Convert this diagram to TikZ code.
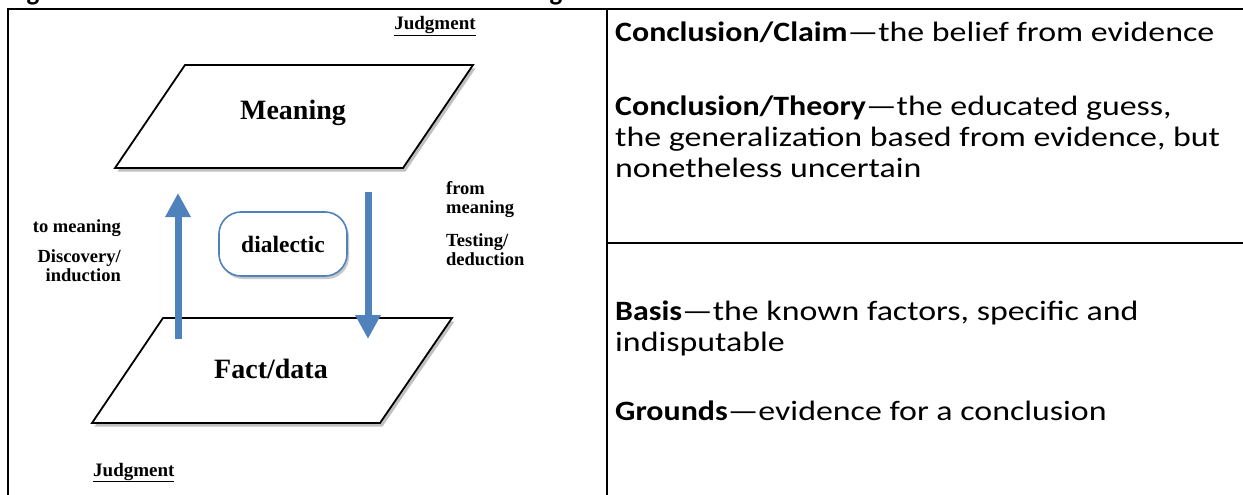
\documentclass[tikz,border=0pt]{standalone}
\usepackage{fontspec}
\setmainfont{Carlito}
\newfontfamily\dserif{Liberation Serif}
\usetikzlibrary{arrows.meta,shadows}
\definecolor{abl}{HTML}{4F81BD}
\newcommand{\wide}[1]{\scalebox{1.21}[1]{#1}}
\newcommand{\wideb}[1]{\scalebox{1.14}[1]{\textbf{#1}}}
\begin{document}
\begin{tikzpicture}[x=1pt,y=-1pt,
  rule/.style={line width=2pt,black},
  plane/.style={draw=black,line width=1.8pt,fill=white,line join=miter,
    drop shadow={shadow xshift=2.5pt,shadow yshift=-3.5pt,opacity=0.35,fill=black!70}},
  lbl/.style={font=\dserif\bfseries\fontsize{18.5}{20}\selectfont,inner sep=0pt},
  bigl/.style={font=\dserif\bfseries\fontsize{28}{30}\selectfont,inner sep=0pt},
  jlbl/.style={font=\dserif\bfseries\fontsize{19}{22}\selectfont,inner sep=0pt},
  rtext/.style={font=\fontsize{28}{31}\selectfont,anchor=base west,inner sep=0pt},
  flow/.style={abl,line width=7pt,-{Triangle[width=24pt,length=24pt]}},
  dbox/.style={draw=abl,line width=1.6pt,rounded corners=22pt,fill=white,
    minimum width=128pt,minimum height=64pt,
    font=\dserif\bfseries\fontsize{23.5}{24}\selectfont,
    drop shadow={shadow xshift=2pt,shadow yshift=-3pt,opacity=0.3,fill=black!70}}
]
\useasboundingbox (0,0) rectangle (1243,495);
\fill[white] (0,0) rectangle (1243,495);
% cut-off heading fragments
\begin{scope}
  \clip (0,0) rectangle (1243,8);
  \node[font=\bfseries\fontsize{27}{30}\selectfont,anchor=base,inner sep=0pt] (hg1) at (33,1) {g};
  \node[font=\bfseries\fontsize{27}{30}\selectfont,anchor=base,inner sep=0pt] (hg2) at (556,1) {g};
\end{scope}
% table rules
\draw[rule] (7,9) -- (1243,9);
\draw[rule] (8,9) -- (8,495);
\draw[rule] (607,9) -- (607,495);
\draw[rule] (607,243) -- (1243,243);
% planes
\draw[plane] (185,65) -- (473,65) -- (403,168) -- (115,168) -- cycle;
\node[bigl] (mean) at (293,113) {Meaning};
\draw[plane] (163,318) -- (452,318) -- (380,423) -- (92,423) -- cycle;
\node[bigl] (fact) at (271,369) {Fact/data};
% arrows
\coordinate (upS) at (178,339);
\coordinate (upE) at (178,193);
\coordinate (dnS) at (368,192);
\coordinate (dnE) at (368,339);
\draw[flow] (upS) -- (upE);
\draw[flow] (dnS) -- (dnE);
% dialectic
\node[dbox] (dial) at (283,244) {dialectic};
% labels
\node[jlbl,anchor=base] (jtop) at (435,30) {\underline{Judgment}};
\node[jlbl,anchor=base west] (jbot) at (93,476) {\underline{Judgment}};
\node[lbl,anchor=base east] (tm) at (121,232) {to meaning};
\node[lbl,anchor=base east] (disc) at (121,262) {Discovery/};
\node[lbl,anchor=base east] (ind) at (121,281) {induction};
\node[lbl,anchor=base west] (fr) at (446,194) {from};
\node[lbl,anchor=base west] (frm) at (446,213) {meaning};
\node[lbl,anchor=base west] (tst) at (446,246) {Testing/};
\node[lbl,anchor=base west] (ded) at (446,265) {deduction};
% right column
\node[rtext] (c1) at (615,42) {\wideb{Conclusion/Claim}\wide{---the belief from evidence}};
\node[rtext] (c2a) at (615,115) {\wideb{Conclusion/Theory}\wide{---the educated guess,}};
\node[rtext] (c2b) at (615,146) {\wide{the generalization based from evidence, but}};
\node[rtext] (c2c) at (615,177) {\wide{nonetheless uncertain}};
\node[rtext] (b1a) at (615,320) {\wideb{Basis}\wide{---the known factors, specific and}};
\node[rtext] (b1b) at (615,351) {\wide{indisputable}};
\node[rtext] (g1) at (615,420) {\wideb{Grounds}\wide{---evidence for a conclusion}};
\end{tikzpicture}
\end{document}
